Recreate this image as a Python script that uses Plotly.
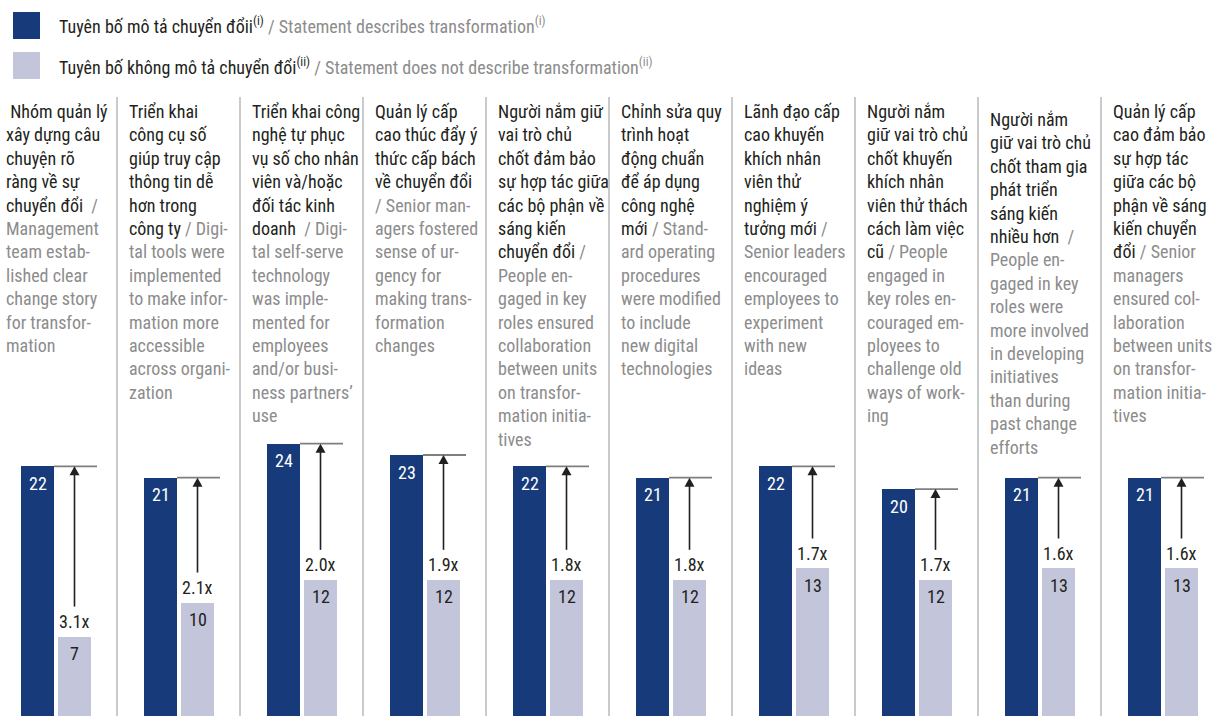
import plotly.graph_objects as go

# Share of respondents (%) reporting a successful transformation
transform = [22, 21, 24, 23, 22, 21, 22, 20, 21, 21]
no_transform = [7, 10, 12, 12, 12, 12, 13, 12, 13, 13]
multipliers = ["3.1x", "2.1x", "2.0x", "1.9x", "1.8x", "1.8x", "1.7x", "1.7x", "1.6x", "1.6x"]

# Statement labels: Vietnamese part | English part, "\n" = line break
statements = [
    " Nhóm quản lý\nxây dựng câu\nchuyện rõ\nràng về sự\nchuyển đổi|  /\nManagement\nteam estab-\nlished clear\nchange story\nfor transfor-\nmation",
    "Triển khai\ncông cụ số\ngiúp truy cập\nthông tin dễ\nhơn trong\ncông ty| / Digi-\ntal tools were\nimplemented\nto make infor-\nmation more\naccessible\nacross organi-\nzation",
    "Triển khai công\nnghệ tự phục\nvụ số cho nhân\nviên và/hoặc\nđối tác kinh\ndoanh|  / Digi-\ntal self-serve\ntechnology\nwas imple-\nmented for\nemployees\nand/or busi-\nness partners’\nuse",
    "Quản lý cấp\ncao thúc đẩy ý\nthức cấp bách\nvề chuyển đổi|\n/ Senior man-\nagers fostered\nsense of ur-\ngency for\nmaking trans-\nformation\nchanges",
    "Người nắm giữ\nvai trò chủ\nchốt đảm bảo\nsự hợp tác giữa\ncác bộ phận về\nsáng kiến\nchuyển đổi| /\nPeople en-\ngaged in key\nroles ensured\ncollaboration\nbetween units\non transfor-\nmation initia-\ntives",
    "Chỉnh sửa quy\ntrình hoạt\nđộng chuẩn\nđể áp dụng\ncông nghệ\nmới| / Stand-\nard operating\nprocedures\nwere modified\nto include\nnew digital\ntechnologies",
    "Lãnh đạo cấp\ncao khuyến\nkhích nhân\nviên thử\nnghiệm ý\ntưởng mới| /\nSenior leaders\nencouraged\nemployees to\nexperiment\nwith new\nideas",
    "Người nắm\ngiữ vai trò chủ\nchốt khuyến\nkhích nhân\nviên thử thách\ncách làm việc\ncũ| / People\nengaged in\nkey roles en-\ncouraged em-\nployees to\nchallenge old\nways of work-\ning",
    "Người nắm\ngiữ vai trò chủ\nchốt tham gia\nphát triển\nsáng kiến\nnhiều hơn|  /\nPeople en-\ngaged in key\nroles were\nmore involved\nin developing\ninitiatives\nthan during\npast change\nefforts",
    "Quản lý cấp\ncao đảm bảo\nsự hợp tác\ngiữa các bộ\nphận về sáng\nkiến chuyển\nđổi| / Senior\nmanagers\nensured col-\nlaboration\nbetween units\non transfor-\nmation initia-\ntives",
]

legend_vi = ["Tuyên bố mô tả chuyển đổii<sup>(i)</sup>",
             "Tuyên bố không mô tả chuyển đổi<sup>(ii)</sup>"]
legend_en = [" / Statement describes transformation<sup>(i)</sup>",
             " / Statement does not describe transformation<sup>(ii)</sup>"]

# ---- styling ----
NAVY = "#173b7a"
LILAC = "#c3c5da"
INK = "#231f20"
GREY_TXT = "#8c8c8c"
SEP = "#b8b8b8"
FONT = "Roboto Condensed, Archivo Narrow, DejaVu Sans Condensed, sans-serif"

W, H = 1220, 716
COL_PX = 123.0          # width of one statement column in pixels
SEP0_PX = 117.0         # first column divider in pixels


def u(px):
    """pixel -> column units on the x axis"""
    return (px - SEP0_PX) / COL_PX + 0.5


Y_MAX = 63.1
PX_PER_UNIT = H / Y_MAX
DARK_OFF = u(37.5)
LIGHT_OFF = u(74.5)
BAR_W = 33 / COL_PX
TEXT_OFF = 10 / COL_PX
HEAD_W = 5 / COL_PX               # half width of the arrow head
HEAD_H = 9 / PX_PER_UNIT          # height of the arrow head
TAIL_GAP = 30 / PX_PER_UNIT       # gap between light bar top and arrow tail
text_drop = [0, 0, 0, 0, 0, 0, 0, 0, 8, 0]

idx = list(range(len(transform)))

fig = go.Figure()
fig.add_trace(go.Bar(x=[i + DARK_OFF for i in idx], y=transform, width=BAR_W,
                     marker=dict(color=NAVY, line=dict(width=0)),
                     name="Statement describes transformation", showlegend=False,
                     hoverinfo="skip"))
fig.add_trace(go.Bar(x=[i + LIGHT_OFF for i in idx], y=no_transform, width=BAR_W,
                     marker=dict(color=LILAC, line=dict(width=0)),
                     name="Statement does not describe transformation", showlegend=False,
                     hoverinfo="skip"))

shapes = []
annotations = []

# column dividers
for i in idx[:-1]:
    shapes.append(dict(type="line", xref="x", yref="paper", x0=i + 0.5, x1=i + 0.5,
                       y0=0, y1=(H - 97) / H, line=dict(color=SEP, width=1.5)))


def two_tone(text):
    vi, en = text.split("|")
    vi_lines = vi.split("\n")
    en_lines = en.split("\n")
    lines = []
    for k, ln in enumerate(vi_lines):
        part = f"<span style='color:{INK}'>{ln}</span>"
        if k == len(vi_lines) - 1 and en_lines[0]:
            part += f"<span style='color:{GREY_TXT}'>{en_lines[0]}</span>"
        lines.append(part)
    for ln in en_lines[1:]:
        lines.append(f"<span style='color:{GREY_TXT}'>{ln}</span>")
    return "<br>".join(lines)


for i in idx:
    annotations.append(dict(
        xref="x", yref="paper", x=i - 0.5 + TEXT_OFF, y=(H - 99 - text_drop[i]) / H,
        xanchor="left", yanchor="top", align="left", showarrow=False,
        text=two_tone(statements[i]), font=dict(family=FONT, size=18, color=INK)))

    d, l = transform[i], no_transform[i]
    xa = i + LIGHT_OFF
    # value labels
    annotations.append(dict(xref="x", yref="y", x=i + DARK_OFF, y=d, yshift=-17,
                            yanchor="middle", showarrow=False, text=str(d),
                            font=dict(family=FONT, size=18, color="white")))
    annotations.append(dict(xref="x", yref="y", x=xa, y=l, yshift=-17,
                            yanchor="middle", showarrow=False, text=str(l),
                            font=dict(family=FONT, size=18, color=INK)))
    # multiplier label above the light bar
    annotations.append(dict(xref="x", yref="y", x=xa, y=l, yshift=15,
                            yanchor="middle", showarrow=False, text=multipliers[i],
                            font=dict(family=FONT, size=18, color=INK)))
    # reference line at the height of the dark bar
    shapes.append(dict(type="line", xref="x", yref="y",
                       x0=i + DARK_OFF + BAR_W / 2, x1=xa + BAR_W / 2 + 6 / COL_PX,
                       y0=d, y1=d, line=dict(color="#7f7f7f", width=1.8)))
    # arrow from the multiplier up to the reference line
    shapes.append(dict(type="line", xref="x", yref="y", x0=xa, x1=xa,
                       y0=l + TAIL_GAP, y1=d - HEAD_H * 0.5,
                       line=dict(color=INK, width=1.6)))
    shapes.append(dict(type="path", xref="x", yref="y",
                       path=f"M {xa - HEAD_W} {d - HEAD_H} L {xa + HEAD_W} {d - HEAD_H} "
                            f"L {xa} {d} Z",
                       fillcolor=INK, line=dict(width=0)))

# legend drawn as swatches + text
for k, color in enumerate([NAVY, LILAC]):
    top = 12 + k * 40
    shapes.append(dict(type="rect", xref="paper", yref="paper",
                       x0=13 / W, x1=40 / W, y0=(H - top - 27) / H, y1=(H - top) / H,
                       fillcolor=color, line=dict(width=0)))
    annotations.append(dict(xref="paper", yref="paper", x=57 / W, y=(H - top - 13.5) / H,
                            xanchor="left", yanchor="middle", showarrow=False,
                            text=f"<span style='color:{INK}'>{legend_vi[k]}</span>"
                                 f"<span style='color:{GREY_TXT}'>{legend_en[k]}</span>",
                            font=dict(family=FONT, size=18)))

fig.update_layout(
    width=W, height=H, margin=dict(l=0, r=0, t=0, b=0),
    paper_bgcolor="white", plot_bgcolor="white",
    barmode="overlay", bargap=0,
    xaxis=dict(range=[u(0), u(W)], visible=False, fixedrange=True),
    yaxis=dict(range=[0, Y_MAX], visible=False, fixedrange=True),
    shapes=shapes, annotations=annotations,
    font=dict(family=FONT),
)

fig.write_html("out.html")
